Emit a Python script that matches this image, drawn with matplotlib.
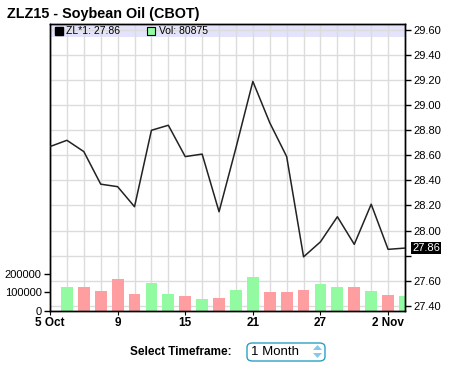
import matplotlib.pyplot as plt
import numpy as np
from matplotlib.patches import Rectangle, FancyBboxPatch, Polygon
from matplotlib.transforms import blended_transform_factory

plt.rcParams['font.family'] = ['Liberation Sans', 'DejaVu Sans']

# Datos (cierre diario y volumen)
precios = [28.67, 28.72, 28.63, 28.37, 28.35, 28.19, 28.80, 28.84, 28.59, 28.61, 28.15,
           28.66, 29.19, 28.86, 28.59, 27.79, 27.91, 28.11, 27.89, 28.21, 27.85, 27.86]
volumen = [None, 126000, 126000, 105000, 169000, 89000, 148000, 89000, 78000, 62000, 68000,
           110000, 180000, 100000, 100000, 110000, 142000, 126000, 126000, 105000, 84000, 80875]
etiquetas_x = ["5 Oct", "9", "15", "21", "27", "2 Nov"]
pos_etiquetas = [0, 4, 8, 12, 16, 20]
ticks_precio = [27.40, 27.60, 27.80, 28.00, 28.20, 28.40, 28.60, 28.80, 29.00, 29.20, 29.40, 29.60]
ticks_vol = [0, 100000, 200000]

W, H = 454, 369
fig = plt.figure(figsize=(W / 100, H / 100), dpi=100)
L, R, T, B = 50, 405, 24, 311
ax = fig.add_axes([L / W, 1 - B / H, (R - L) / W, (B - T) / H])
axp = ax.twinx()

pmin, pmax = 27.358, 29.648
vmax = 1535000
n = len(precios)
x = np.arange(n)

ax.set_xlim(0, n - 1)
ax.set_ylim(0, vmax)
axp.set_ylim(pmin, pmax)
axp.set_xlim(0, n - 1)

# franja de la leyenda
ax.add_patch(Rectangle((0, 1 - 13 / 287), 1, 13 / 287, transform=ax.transAxes,
                       facecolor='#e3e3fb', edgecolor='none', zorder=0.5))

# grilla
gcol = '#dcdcdc'
for xi in x:
    ax.axvline(xi, color=gcol, lw=1, zorder=1)
for p in ticks_precio:
    ax.axhline((p - pmin) / (pmax - pmin) * vmax, color=gcol, lw=1, zorder=1)

# barras de volumen
for i in range(1, n):
    col = '#92fba2' if precios[i] >= precios[i - 1] else '#ff9ea0'
    ax.bar(i, volumen[i], width=0.7, color=col, zorder=2)

axp.plot(x, precios, color='#222222', lw=1.1, zorder=3)

# ejes
for a in (ax, axp):
    for s in a.spines.values():
        s.set_color('black')
        s.set_linewidth(1)

ax.set_yticks(ticks_vol)
ax.set_yticklabels([str(v) for v in ticks_vol], fontsize=8)
ax.tick_params(axis='y', length=4, pad=2, width=1)
ax.set_xticks(pos_etiquetas)
ax.set_xticklabels(etiquetas_x, fontsize=8.5, fontweight='bold')
ax.tick_params(axis='x', length=3, pad=1)

axp.set_yticks(ticks_precio)
axp.set_yticklabels(["" if abs(p - 27.80) < 1e-6 else "%.2f" % p for p in ticks_precio], fontsize=8)
axp.tick_params(axis='y', length=4, pad=2, width=1)

# etiqueta del ultimo precio
tr = blended_transform_factory(axp.transAxes, axp.transData)
axp.text(1.0 + 7 / 355, precios[-1], "%.2f" % precios[-1], transform=tr, fontsize=8,
         color='white', va='center', ha='left',
         bbox=dict(boxstyle='square,pad=0.1', facecolor='black', edgecolor='none'))

# titulo y leyenda
fig.text(7 / W, 1 - 14 / H, "ZLZ15 - Soybean Oil (CBOT)", fontsize=10.4, fontweight='bold', va='center')
ly = 1 - 31 / H
fig.patches.append(Rectangle((55 / W, 1 - 35 / H), 8 / W, 8 / H, transform=fig.transFigure,
                             facecolor='black', edgecolor='black'))
fig.text(66 / W, ly, "ZL*1: 27.86", fontsize=7.5, va='center')
fig.patches.append(Rectangle((147 / W, 1 - 35 / H), 8 / W, 8 / H, transform=fig.transFigure,
                             facecolor='#92fba2', edgecolor='black', lw=0.8))
fig.text(159 / W, ly, "Vol: 80875", fontsize=7.5, va='center')

# selector de periodo
fig.text(130 / W, 1 - 352 / H, "Select Timeframe:", fontsize=8.5, fontweight='bold', va='center')
fig.patches.append(FancyBboxPatch((247 / W, 1 - 361 / H), 78 / W, 18 / H,
                                  boxstyle='round,pad=0,rounding_size=0.012',
                                  transform=fig.transFigure, facecolor='white',
                                  edgecolor='#2b9fc4', lw=1))
fig.text(251 / W, 1 - 352 / H, "1 Month", fontsize=9.5, va='center')
fig.patches.append(Polygon([(313 / W, 1 - 350 / H), (322 / W, 1 - 350 / H), (317.5 / W, 1 - 345 / H)],
                           closed=True, transform=fig.transFigure, facecolor='#84c8ec', edgecolor='none'))
fig.patches.append(Polygon([(313 / W, 1 - 353 / H), (322 / W, 1 - 353 / H), (317.5 / W, 1 - 358 / H)],
                           closed=True, transform=fig.transFigure, facecolor='#84c8ec', edgecolor='none'))

fig.savefig("out.png", dpi=100)
